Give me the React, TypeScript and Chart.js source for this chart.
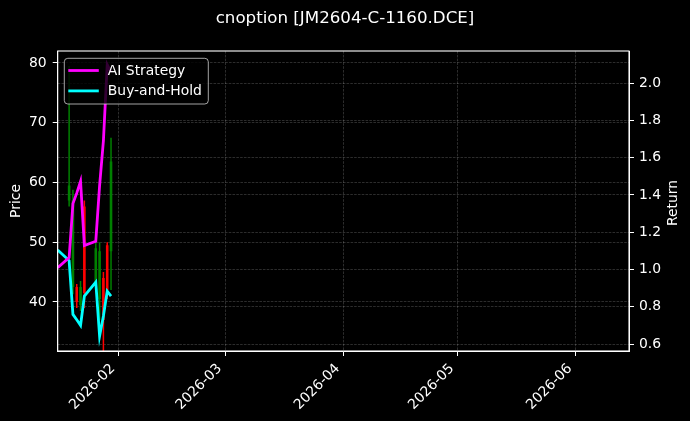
import React, { useEffect, useRef } from "react";
import { Chart, registerables } from "chart.js";

Chart.register(...registerables);

// ---------------- data ----------------
const TITLE = "cnoption [JM2604-C-1160.DCE]";
const X_MIN_DATE = "2026-01-16";
const X_MAX_DATE = "2026-06-15";

const lineDates = [
  "2026-01-16", "2026-01-19", "2026-01-20", "2026-01-21", "2026-01-22", "2026-01-23",
  "2026-01-26", "2026-01-27", "2026-01-28", "2026-01-29", "2026-01-30",
];
const aiStrategy = [1.01, 1.064, 1.354, 1.41, 1.474, 1.129, 1.152, 1.45, 1.69, 2.1, 2.06];
const buyAndHold = [1.105, 1.048, 0.759, 0.73, 0.7, 0.857, 0.932, 0.642, 0.75, 0.884, 0.857];

const candleDates = [
  "2026-01-19", "2026-01-20", "2026-01-21", "2026-01-22", "2026-01-23",
  "2026-01-26", "2026-01-27", "2026-01-28", "2026-01-29", "2026-01-30",
];
const candleOpen = [57, 42.5, 42.5, 39.5, 56, 43, 40.5, 44, 49.5, 48.5];
const candleHigh = [79.5, 58.8, 43, 43.5, 57, 50, 50, 45, 50, 67.5];
const candleLow = [56, 41.3, 39, 38.5, 39, 42, 37, 29, 40.5, 42];
const candleClose = [59.5, 57, 40, 42.5, 41.5, 49, 48.5, 37, 42, 63.5];

const monthTickDates = ["2026-02-01", "2026-03-01", "2026-04-01", "2026-05-01", "2026-06-01"];
const priceTicks = [40, 50, 60, 70, 80];
const returnTicks = [0.6, 0.8, 1.0, 1.2, 1.4, 1.6, 1.8, 2.0];
const PRICE_MIN = 31.8;
const PRICE_MAX = 82;
const RETURN_MIN = 0.5625;
const RETURN_MAX = 2.173;

// ---------------- helpers ----------------
const toDay = (s: string) =>
  (Date.UTC(+s.slice(0, 4), +s.slice(5, 7) - 1, +s.slice(8, 10)) - Date.UTC(2026, 0, 1)) / 86400000;

const FONT = "'DejaVu Sans', sans-serif";
const GRID = "rgba(255,255,255,0.25)";
const UP = "#008000";
const DOWN = "#ff0000";

export default function App() {
  const ref = useRef<HTMLCanvasElement>(null);

  useEffect(() => {
    document.body.style.margin = "0";
    document.body.style.background = "#000";
    const canvas = ref.current!;

    const candleColors = candleOpen.map((o, i) => (candleClose[i] >= o ? UP : DOWN));
    const monthDays = monthTickDates.map(toDay);

    const bgPlugin = {
      id: "bg",
      beforeDraw(c: any) {
        const ctx = c.ctx;
        ctx.save();
        ctx.fillStyle = "#000";
        ctx.fillRect(0, 0, c.width, c.height);
        ctx.restore();
      },
    };

    const overlayPlugin = {
      id: "overlay",
      afterDraw(c: any) {
        const ctx = c.ctx;
        const a = c.chartArea;
        ctx.save();
        // frame (spines)
        ctx.strokeStyle = "#fff";
        ctx.lineWidth = 1.1;
        ctx.strokeRect(a.left, a.top, a.right - a.left, a.bottom - a.top);
        // right axis label
        ctx.save();
        ctx.translate(673, 203);
        ctx.rotate(-Math.PI / 2);
        ctx.fillStyle = "#fff";
        ctx.font = `13.9px ${FONT}`;
        ctx.textAlign = "center";
        ctx.textBaseline = "middle";
        ctx.fillText("Return", 0, 0);
        ctx.restore();
        // legend
        const lx = a.left + 6.6;
        const ly = a.top + 7.3;
        const lw = 144;
        const lh = 45.7;
        ctx.beginPath();
        ctx.roundRect(lx, ly, lw, lh, 3.5);
        ctx.fillStyle = "rgba(0,0,0,0.8)";
        ctx.fill();
        ctx.strokeStyle = "rgba(204,204,204,0.8)";
        ctx.lineWidth = 1;
        ctx.stroke();
        const items = [
          { label: "AI Strategy", color: "#ff00ff", y: ly + 12.2 },
          { label: "Buy-and-Hold", color: "#00ffff", y: ly + 32.6 },
        ];
        ctx.font = `13.9px ${FONT}`;
        ctx.textAlign = "left";
        ctx.textBaseline = "middle";
        for (const it of items) {
          ctx.beginPath();
          ctx.moveTo(lx + 4, it.y);
          ctx.lineTo(lx + 34.5, it.y);
          ctx.strokeStyle = it.color;
          ctx.lineWidth = 2.8;
          ctx.stroke();
          ctx.fillStyle = "#fff";
          ctx.fillText(it.label, lx + 43.5, it.y + 0.5);
        }
        ctx.restore();
      },
    };

    const chart = new Chart(canvas, {
      type: "bar",
      data: {
        datasets: [
          {
            type: "line",
            label: "AI Strategy",
            data: lineDates.map((d, i) => ({ x: toDay(d), y: aiStrategy[i] })),
            borderColor: "#ff00ff",
            backgroundColor: "#ff00ff",
            borderWidth: 2.8,
            pointRadius: 0,
            tension: 0,
            xAxisID: "x",
            yAxisID: "y1",
            clip: 0,
            order: 0,
          },
          {
            type: "line",
            label: "Buy-and-Hold",
            data: lineDates.map((d, i) => ({ x: toDay(d), y: buyAndHold[i] })),
            borderColor: "#00ffff",
            backgroundColor: "#00ffff",
            borderWidth: 2.8,
            pointRadius: 0,
            tension: 0,
            xAxisID: "x",
            yAxisID: "y1",
            clip: 0,
            order: 1,
          },
          {
            type: "bar",
            label: "wick",
            data: candleDates.map((d, i) => ({ x: toDay(d), y: [candleLow[i], candleHigh[i]] })),
            backgroundColor: candleColors,
            borderWidth: 0,
            barThickness: 1.5,
            grouped: false,
            inflateAmount: 0,
            xAxisID: "x",
            yAxisID: "y",
            clip: 0,
            order: 3,
          },
          {
            type: "bar",
            label: "body",
            data: candleDates.map((d, i) => ({ x: toDay(d), y: [candleOpen[i], candleClose[i]] })),
            backgroundColor: candleColors,
            borderWidth: 0,
            barThickness: 2.6,
            grouped: false,
            inflateAmount: 0,
            xAxisID: "x",
            yAxisID: "y",
            clip: 0,
            order: 2,
          },
        ] as any,
      },
      options: {
        animation: false,
        responsive: false,
        devicePixelRatio: 1,
        events: [],
        layout: { padding: 0 },
        plugins: {
          legend: { display: false },
          tooltip: { enabled: false },
          title: {
            display: true,
            text: TITLE,
            color: "#fff",
            font: { family: FONT, size: 16.67, weight: "normal", lineHeight: 1.2 },
            padding: { top: 9, bottom: 22 },
          },
        },
        scales: {
          x: {
            type: "linear",
            min: toDay(X_MIN_DATE),
            max: toDay(X_MAX_DATE),
            offset: false,
            grid: {
              color: GRID,
              lineWidth: 0.7,
              tickColor: "#fff",
              tickLength: 5,
              tickWidth: 1,
              offset: false,
            },
            border: { display: true, color: "#fff", width: 1, dash: [2.6, 1.2] },
            ticks: {
              color: "#fff",
              font: { family: FONT, size: 13.9 },
              minRotation: 45,
              maxRotation: 45,
              autoSkip: false,
              padding: 4.6,
              labelOffset: -5.7,
              callback: (v: any) => {
                const i = monthDays.indexOf(v);
                return i >= 0 ? monthTickDates[i].slice(0, 7) : "";
              },
            },
            afterBuildTicks: (s: any) => {
              s.ticks = monthDays.map((v) => ({ value: v }));
            },
            afterFit: (s: any) => {
              s.height = 70;
            },
          },
          y: {
            type: "linear",
            position: "left",
            min: PRICE_MIN,
            max: PRICE_MAX,
            grid: { color: GRID, lineWidth: 0.7, tickColor: "#fff", tickLength: 5, tickWidth: 1 },
            border: { display: true, color: "#fff", width: 1, dash: [2.6, 1.2] },
            title: {
              display: true,
              text: "Price",
              color: "#fff",
              font: { family: FONT, size: 13.9, lineHeight: 1.2 },
              padding: { top: 8, bottom: 0 },
            },
            ticks: {
              color: "#fff",
              font: { family: FONT, size: 13.9 },
              padding: 6,
              callback: (v: any) => String(v),
            },
            afterBuildTicks: (s: any) => {
              s.ticks = priceTicks.map((v) => ({ value: v }));
            },
            afterFit: (s: any) => {
              s.width = 57.7;
            },
          },
          y1: {
            type: "linear",
            position: "right",
            min: RETURN_MIN,
            max: RETURN_MAX,
            grid: { color: GRID, lineWidth: 0.7, tickColor: "#fff", tickLength: 5, tickWidth: 1, drawOnChartArea: true },
            border: { display: true, color: "#fff", width: 1, dash: [2.6, 1.2] },
            ticks: {
              color: "#fff",
              font: { family: FONT, size: 13.9 },
              padding: 5,
              callback: (v: any) => Number(v).toFixed(1),
            },
            afterBuildTicks: (s: any) => {
              s.ticks = returnTicks.map((v) => ({ value: v }));
            },
            afterFit: (s: any) => {
              s.width = 61;
            },
          },
        },
      } as any,
      plugins: [bgPlugin, overlayPlugin],
    });

    return () => chart.destroy();
  }, []);

  return (
    <div style={{ width: 690, height: 421, background: "#000" }}>
      <canvas ref={ref} width={690} height={421} style={{ display: "block", width: 690, height: 421 }} />
    </div>
  );
}
